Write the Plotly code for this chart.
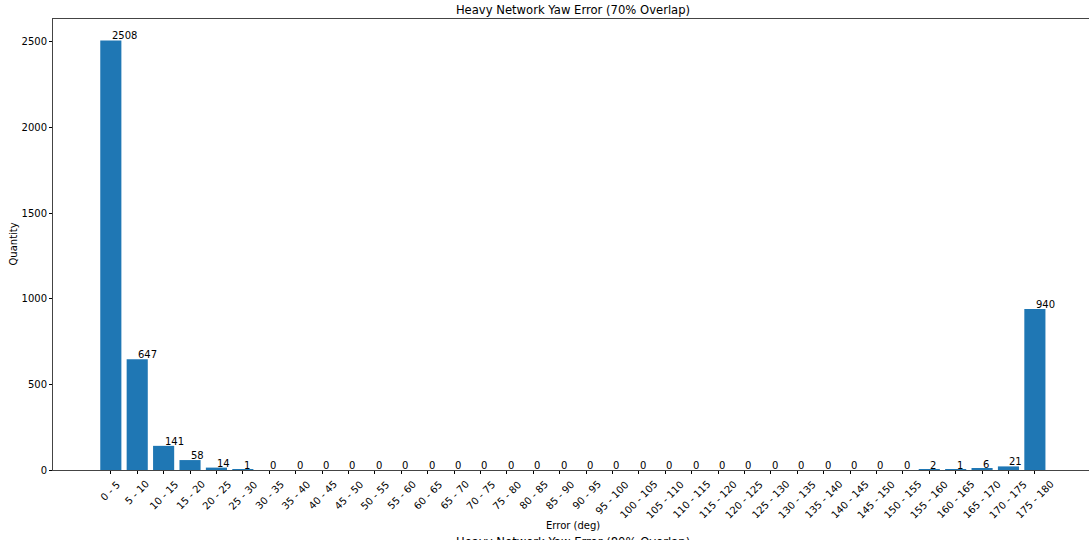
import plotly.graph_objects as go

categories = [f"{a} - {a + 5}" for a in range(0, 180, 5)]
values = [2508, 647, 141, 58, 14, 1, 0, 0, 0, 0, 0, 0, 0, 0, 0, 0, 0, 0, 0, 0,
          0, 0, 0, 0, 0, 0, 0, 0, 0, 0, 0, 2, 1, 6, 21, 940]
yticks = [0, 500, 1000, 1500, 2000, 2500]

FONT = "DejaVu Sans"
BLUE = "#1f77b4"

fig = go.Figure()
fig.add_trace(go.Bar(
    x=list(range(len(categories))), y=values, width=0.8,
    marker=dict(color=BLUE, line=dict(width=0)),
    hovertext=categories, showlegend=False,
))

annotations = []
# value labels (matplotlib text at (i, v), left-aligned, baseline)
for i, v in enumerate(values):
    annotations.append(dict(
        x=i, y=v, xref="x", yref="y", text=str(v), showarrow=False,
        xanchor="left", yanchor="bottom", yshift=-3, xshift=-1,
        font=dict(family=FONT, size=10, color="#000"),
    ))
# rotated category tick labels, centred under each tick
for i, c in enumerate(categories):
    annotations.append(dict(
        x=i, y=0, xref="x", yref="y", text=c, showarrow=False,
        xanchor="center", yanchor="top", textangle=-45, yshift=-6,
        font=dict(family=FONT, size=10, color="#000"),
    ))
# partially visible title of the next subplot
annotations.append(dict(
    x=(573 - 53) / 1036, y=-(533 - 470) / 451, xref="paper", yref="paper",
    text="Heavy Network Yaw Error (80% Overlap)", showarrow=False,
    xanchor="center", yanchor="top",
    font=dict(family=FONT, size=11.6, color="#000"),
))
# axis titles
annotations.append(dict(
    x=(573 - 53) / 1036, y=-(518 - 470) / 451, xref="paper", yref="paper",
    text="Error (deg)", showarrow=False, xanchor="center", yanchor="top",
    font=dict(family=FONT, size=10, color="#000"),
))
annotations.append(dict(
    x=-(53 - 13) / 1036, y=0.5, xref="paper", yref="paper",
    text="Quantity", showarrow=False, xanchor="center", yanchor="middle",
    textangle=-90, font=dict(family=FONT, size=10, color="#000"),
))

fig.update_layout(
    width=1089, height=540,
    margin=dict(l=53, r=0, t=19, b=70),
    plot_bgcolor="white", paper_bgcolor="white",
    font=dict(family=FONT, size=10, color="#000"),
    title=dict(text="Heavy Network Yaw Error (70% Overlap)", x=573 / 1089,
               xanchor="center", y=1 - 9.5 / 540, yanchor="middle",
               font=dict(family=FONT, size=11.6, color="#000")),
    annotations=annotations,
)
fig.update_xaxes(
    range=[-2.19, 37.05], tickmode="array",
    tickvals=list(range(len(categories))), ticktext=[""] * len(categories),
    ticks="outside", ticklen=3, tickcolor="#000", showgrid=False,
    zeroline=False, showline=True, linecolor="#444", linewidth=1, mirror=True,
)
fig.update_yaxes(
    range=[0, 2508 * 1.05], tickmode="array", tickvals=yticks,
    ticktext=[str(t) for t in yticks], ticks="outside", ticklen=3,
    tickcolor="#000", showgrid=False, zeroline=False, showline=True,
    linecolor="#444", linewidth=1, mirror=False,
    tickfont=dict(family=FONT, size=10, color="#000"),
)

fig.write_html("out.html",
               config={"displayModeBar": False},
               post_script="document.body.style.margin='0';"
                           "document.body.style.padding='0';")
